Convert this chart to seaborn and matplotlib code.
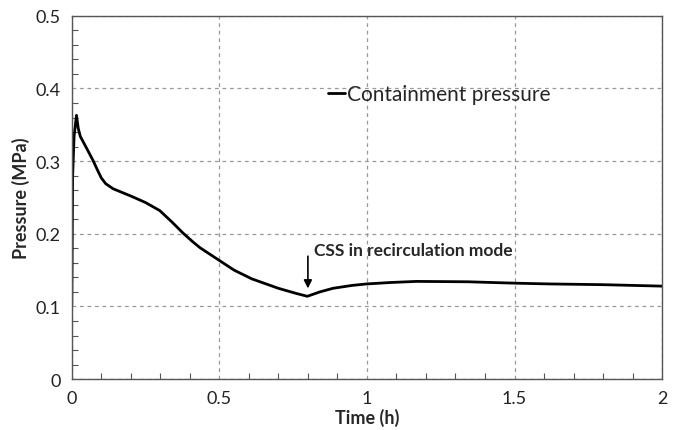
import numpy as np
import pandas as pd
import matplotlib
matplotlib.use("Agg")
import matplotlib.pyplot as plt
from matplotlib.ticker import MultipleLocator
import seaborn as sns

# values
time_h = [0.0, 0.003, 0.008, 0.016, 0.022, 0.029, 0.05, 0.072, 0.088, 0.10, 0.115, 0.14, 0.2, 0.25,
          0.298, 0.34, 0.377, 0.41, 0.434, 0.49, 0.55, 0.61, 0.7, 0.76, 0.798, 0.84, 0.885,
          0.95, 0.999, 1.08, 1.168, 1.34, 1.507, 1.62, 1.8, 2.0]
pressure_mpa = [0.100, 0.28, 0.335, 0.363, 0.345, 0.334, 0.318, 0.301, 0.287, 0.277, 0.269, 0.262, 0.252, 0.243,
                0.232, 0.216, 0.201, 0.189, 0.181, 0.166, 0.150, 0.138, 0.125, 0.118, 0.114, 0.120, 0.125,
                0.129, 0.131, 0.133, 0.1345, 0.134, 0.132, 0.131, 0.130, 0.128]
x_ticks = [0, 0.5, 1, 1.5, 2]
x_labels = ["0", "0.5", "1", "1.5", "2"]
y_ticks = [0, 0.1, 0.2, 0.3, 0.4, 0.5]
y_labels = ["0", "0.1", "0.2", "0.3", "0.4", "0.5"]

df = pd.DataFrame({"time": time_h, "pressure": pressure_mpa})

sns.set_style("white")
plt.rcParams['font.family'] = ['Lato', 'DejaVu Sans']
plt.rcParams.update({
    "xtick.bottom": True, "ytick.left": True,
    "xtick.direction": "in", "ytick.direction": "in",
    "xtick.minor.size": 4, "ytick.minor.size": 4,
    "xtick.minor.width": 0.8, "ytick.minor.width": 0.8,
    "xtick.major.size": 0, "ytick.major.size": 0,
    "xtick.color": "#555555", "ytick.color": "#555555",
    "xtick.labelcolor": "#222222", "ytick.labelcolor": "#222222",
})

fig = plt.figure(figsize=(6.77, 4.31), dpi=100)
ax = fig.add_axes([0.106, 0.118, 0.872, 0.843])

sns.lineplot(data=df, x="time", y="pressure", color="black", linewidth=2,
             label="Containment pressure", ax=ax)

ax.set_xlim(0, 2)
ax.set_ylim(0, 0.5)
ax.set_xticks(x_ticks)
ax.set_xticklabels(x_labels)
ax.set_yticks(y_ticks)
ax.set_yticklabels(y_labels)
ax.xaxis.set_minor_locator(MultipleLocator(0.1))
ax.yaxis.set_minor_locator(MultipleLocator(0.02))
ax.tick_params(which="major", labelsize=13, pad=8)
ax.grid(True, which="major", linestyle=(0, (3, 3)), color="#999999", linewidth=0.9)
for s in ax.spines.values():
    s.set_color("#555555")
    s.set_linewidth(1)

ax.set_xlabel("Time (h)", fontsize=13, fontweight="bold", labelpad=1)
ax.set_ylabel("Pressure (MPa)", fontsize=13, fontweight="bold", labelpad=4)

ax.legend(loc="upper left", bbox_to_anchor=(0.42, 0.835), frameon=False, fontsize=15,
          handlelength=0.8, handletextpad=0.1, borderaxespad=0)

ax.annotate("", xy=(0.8, 0.121), xytext=(0.8, 0.173),
            arrowprops=dict(arrowstyle="-|>", color="black", lw=1.2, mutation_scale=12))
ax.text(0.82, 0.178, "CSS in recirculation mode", fontsize=12.5, fontweight="bold",
        va="center", ha="left")

fig.savefig("out.png", dpi=100)
